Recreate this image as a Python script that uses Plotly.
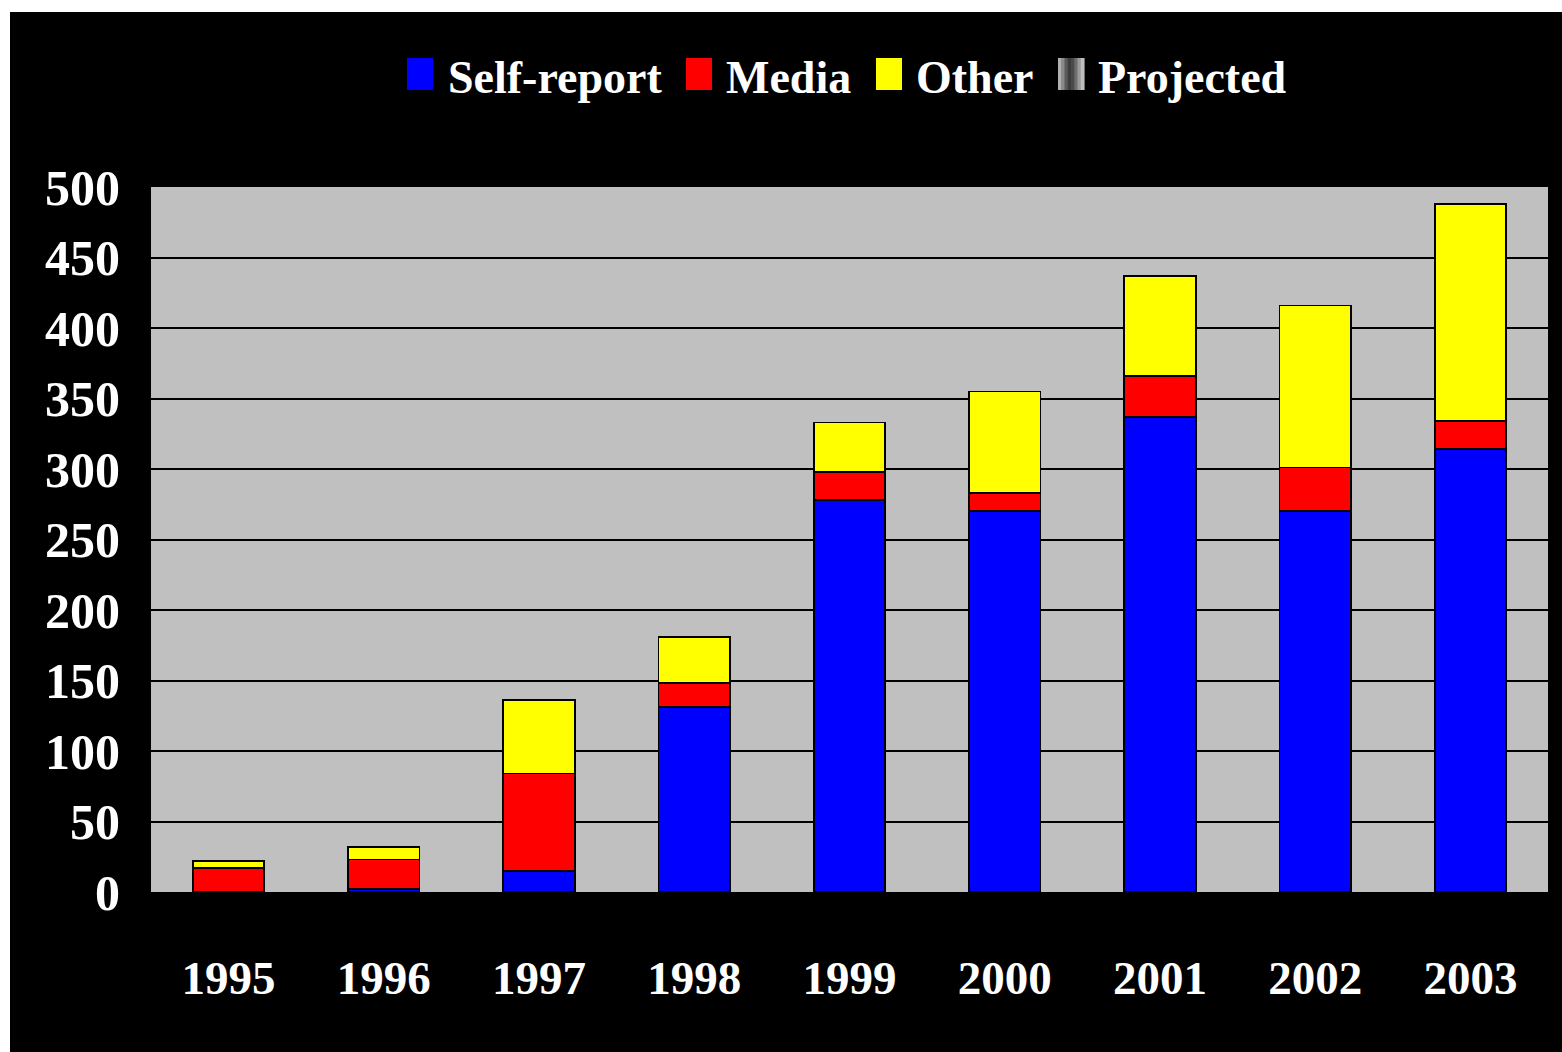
import plotly.graph_objects as go

years = ["1995", "1996", "1997", "1998", "1999", "2000", "2001", "2002", "2003"]
self_report = [0, 2, 15, 131, 278, 270, 337, 270, 314]
media = [17, 21, 69, 17, 20, 13, 29, 31, 20]
other = [5, 9, 52, 33, 35, 72, 71, 115, 154]
y_ticks = [0, 50, 100, 150, 200, 250, 300, 350, 400, 450, 500]

series_names = ["Self-report", "Media", "Other", "Projected"]
series_colors = ["#0000FF", "#FF0000", "#FFFF00", "#808080"]

FONT = "Liberation Serif"

fig = go.Figure()
for name, vals, col in zip(series_names[:3], [self_report, media, other], series_colors[:3]):
    fig.add_trace(go.Bar(
        x=years, y=vals, name=name, marker_color=col,
        marker_line=dict(color="black", width=1.8), showlegend=False,
    ))

# page-pixel geometry of plot area (for legend placement)
PX0, PX1, PY0, PY1 = 151, 1548, 187, 892


def px(x):
    return (x - PX0) / (PX1 - PX0)


def py(y):
    return (PY1 - y) / (PY1 - PY0)


shapes = []
annotations = []
legend_layout = [(407, 450), (686, 728), (876, 918), (1058, 1100)]
for (sx, tx), name, col in zip(legend_layout, series_names, series_colors):
    if name == "Projected":
        grads = ["#b0b0b0", "#8a8a8a", "#5a5a5a", "#3c3c3c", "#4a4a4a", "#6e6e6e", "#9a9a9a", "#bdbdbd"]
        w = 26 / len(grads)
        for i, g in enumerate(grads):
            shapes.append(dict(type="rect", xref="paper", yref="paper",
                               x0=px(sx + i * w), x1=px(sx + (i + 1) * w + 0.6),
                               y0=py(90), y1=py(58), fillcolor=g, line=dict(width=0), layer="above"))
    else:
        shapes.append(dict(type="rect", xref="paper", yref="paper",
                           x0=px(sx), x1=px(sx + 26), y0=py(90), y1=py(58),
                           fillcolor=col, line=dict(width=0), layer="above"))
    annotations.append(dict(text=name, xref="paper", yref="paper", x=px(tx - 4), y=py(77),
                            xanchor="left", yanchor="middle", showarrow=False,
                            font=dict(family=FONT, size=46, color="white", weight="bold")))

fig.update_layout(
    barmode="stack",
    bargap=0.54,
    width=1552, height=1040,
    margin=dict(l=141, r=14, t=175, b=160),
    paper_bgcolor="black",
    plot_bgcolor="#C0C0C0",
    shapes=shapes,
    annotations=annotations,
    showlegend=False,
    xaxis=dict(
        type="category", showgrid=False, zeroline=False, showline=False,
        tickfont=dict(family=FONT, size=47, color="white", weight="bold"),
        ticklabelstandoff=54, ticks="",
    ),
    yaxis=dict(
        range=[0, 500], tickvals=y_ticks, showgrid=True, gridcolor="black", gridwidth=2,
        zeroline=False, showline=False, ticks="",
        tickfont=dict(family=FONT, size=50, color="white", weight="bold"),
        ticklabelstandoff=30,
    ),
)

fig.write_html("out.html", post_script="document.body.style.margin='12px 0 0 10px';document.body.style.overflow='hidden';")
